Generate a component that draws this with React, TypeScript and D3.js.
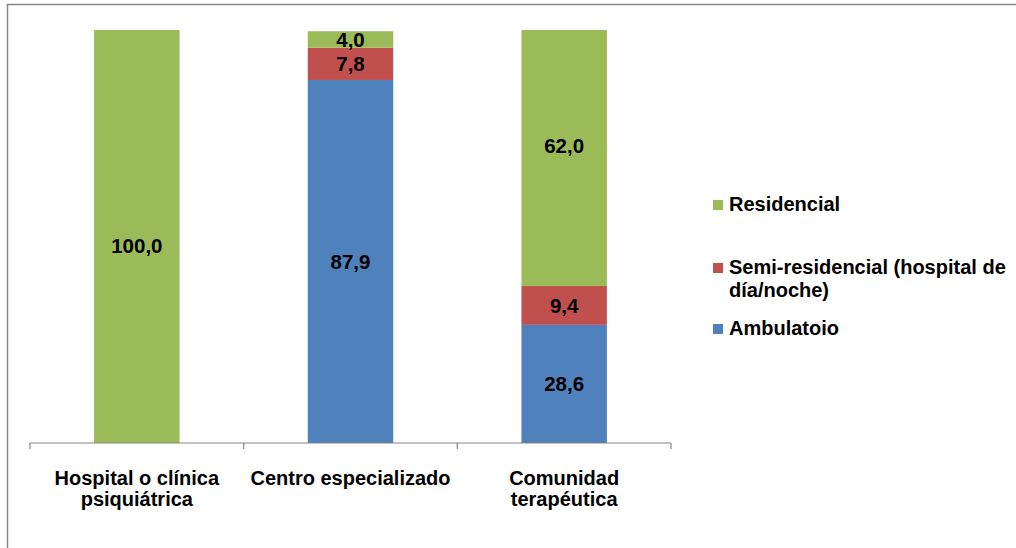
import React from "react";
import * as d3 from "d3";

const categories = ["Hospital o clínica\npsiquiátrica", "Centro especializado", "Comunidad\nterapéutica"];
const seriesNames = ["Ambulatoio", "Semi-residencial (hospital de\ndía/noche)", "Residencial"];
const ambulatorio = [0, 87.9, 28.6];
const semiResidencial = [0, 7.8, 9.4];
const residencial = [100.0, 4.0, 62.0];
const colors = ["#4F81BD", "#C0504D", "#9BBB59"];
// label nudges (px) for the residencial labels, as placed in the original
const residencialLabelNudge = [9, 0, -12];

const W = 1016;
const H = 548;
const font = "'Liberation Sans', Arial, sans-serif";

export default function App() {
  const x = d3.scaleBand<number>().domain([0, 1, 2]).range([30, 671]).padding(0);
  const y = d3.scaleLinear().domain([0, 100]).range([443, 30]);
  const rows = categories.map((c, i) => ({ i, a: ambulatorio[i], s: semiResidencial[i], r: residencial[i] }));
  const stack = d3.stack<any>().keys(["a", "s", "r"])(rows as any);
  const bw = x.bandwidth() * 0.4;

  const legendItems = [
    { name: seriesNames[2], color: colors[2], y: 211 },
    { name: seriesNames[1], color: colors[1], y: 274 },
    { name: seriesNames[0], color: colors[0], y: 335 },
  ];

  return (
    <svg width={W} height={H} style={{ position: "absolute", left: 0, top: 0 }} fontFamily={font}>
      <rect x={0} y={0} width={W} height={H} fill="#fff" />
      <rect x={7.5} y={4.5} width={W + 20} height={H + 20} fill="none" stroke="#878787" strokeWidth={1.5} />
      {stack.map((layer, k) =>
        layer.map((d, i) => {
          const v = d[1] - d[0];
          if (v <= 0) return null;
          const cx = (x(i) as number) + x.bandwidth() / 2;
          const nudge = k === 2 ? residencialLabelNudge[i] : 0;
          return (
            <g key={`${k}-${i}`}>
              <rect x={cx - bw / 2} y={y(d[1])} width={bw} height={y(d[0]) - y(d[1])} fill={colors[k]} />
              <text x={cx} y={(y(d[0]) + y(d[1])) / 2 + nudge} dy="0.36em" textAnchor="middle" fontWeight="bold" fontSize={20.5} fill="#000">
                {v.toFixed(1).replace(".", ",")}
              </text>
            </g>
          );
        })
      )}
      <line x1={30} x2={671} y1={443} y2={443} stroke="#868686" strokeWidth={1.2} />
      {[0, 1, 2, 3].map((t) => {
        const tx = t < 3 ? (x(t) as number) : 671;
        return <line key={t} x1={tx} x2={tx} y1={443} y2={449} stroke="#868686" strokeWidth={1.2} />;
      })}
      {categories.map((c, i) => {
        const cx = (x(i) as number) + x.bandwidth() / 2;
        return (
          <text key={i} textAnchor="middle" fontWeight="bold" fontSize={20} fill="#000">
            {c.split("\n").map((line, j) => (
              <tspan key={j} x={cx} y={485 + j * 21}>{line}</tspan>
            ))}
          </text>
        );
      })}
      {legendItems.map((it, i) => (
        <g key={i}>
          <rect x={713} y={it.y - 11} width={10} height={10} fill={it.color} />
          <text fontWeight="bold" fontSize={20} fill="#000">
            {it.name.split("\n").map((line, j) => (
              <tspan key={j} x={729} y={it.y + j * 23}>{line}</tspan>
            ))}
          </text>
        </g>
      ))}
    </svg>
  );
}
